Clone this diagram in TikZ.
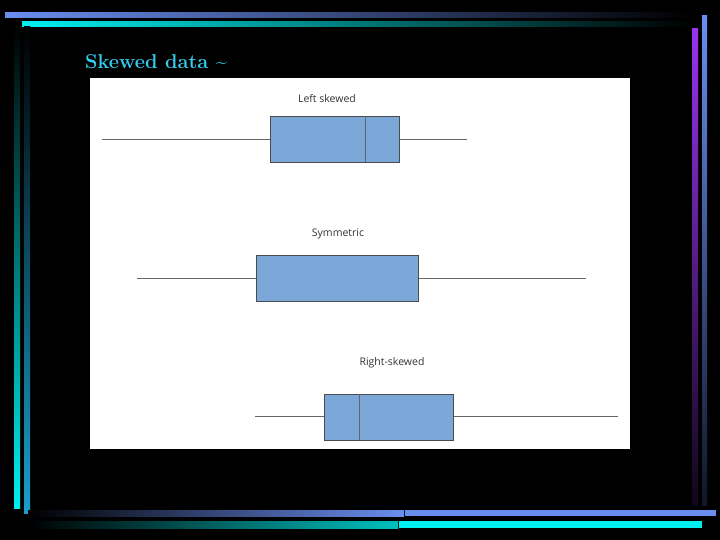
\documentclass[tikz,border=0pt]{standalone}
\usepackage{fontspec}
\newfontfamily\lab{Open Sans}
\begin{document}
\begin{tikzpicture}[x=1pt,y=-1pt,
  bx/.style={fill=boxc,draw=black!70,line width=0.6pt},
  wh/.style={draw=black!60,line width=0.6pt},
  lb/.style={font=\lab\fontsize{10.5}{12}\selectfont,text=black!80,inner sep=0pt}]
\definecolor{boxc}{HTML}{7BA7D9}
\definecolor{ttl}{HTML}{33CCEE}
\definecolor{cy}{HTML}{00F0F0}
\definecolor{bl}{HTML}{6A8EF0}
\definecolor{pu}{HTML}{9933EE}
\definecolor{tb}{HTML}{1A9FCC}
\fill[black] (0,0) rectangle (720,540);
\useasboundingbox (0,0) rectangle (720,540);
% frame bars
\shade[left color=bl,right color=black] (5,13) rectangle (692,18);
\shade[left color=cy,right color=black] (22,22) rectangle (692,27);
\shade[top color=black,bottom color=cy] (14,25) rectangle (20,508);
\shade[top color=black,bottom color=tb] (24,27) rectangle (30,513);
\shade[top color=pu,bottom color=black!90!pu] (692,29) rectangle (698,505);
\shade[top color=bl,bottom color=black!85!bl] (702,16) rectangle (707,505);
\shade[left color=black,right color=bl] (28,510) rectangle (404,516);
\fill[bl] (405,510) rectangle (716,516);
\shade[left color=black,right color=cy!80!black] (28,521) rectangle (398,528);
\fill[cy] (399,521) rectangle (702,528);
% title
\node[anchor=base west,inner sep=0pt,text=ttl,font=\fontsize{20}{22}\selectfont\bfseries\rmfamily] (title) at (85,69) {Skewed data \char`~};
% panel
\fill[white] (90,78) rectangle (630,449);
% plot 1
\node[lb] (l1) at (327,99) {Left skewed};
\draw[wh] (102,139) -- (270,139) (399,139) -- (467,139);
\draw[bx] (270,116) rectangle (399,162);
\draw[wh] (365,116) -- (365,162);
% plot 2
\node[lb] (l2) at (338,234) {Symmetric};
\draw[wh] (137,278) -- (256,278) (418,278) -- (586,278);
\draw[bx] (256,255) rectangle (418,301);
% plot 3
\node[lb] (l3) at (392,363) {Right-skewed};
\draw[wh] (255,416) -- (324,416) (453,416) -- (618,416);
\draw[bx] (324,394) rectangle (453,440);
\draw[wh] (359,394) -- (359,440);
\end{tikzpicture}
\end{document}
